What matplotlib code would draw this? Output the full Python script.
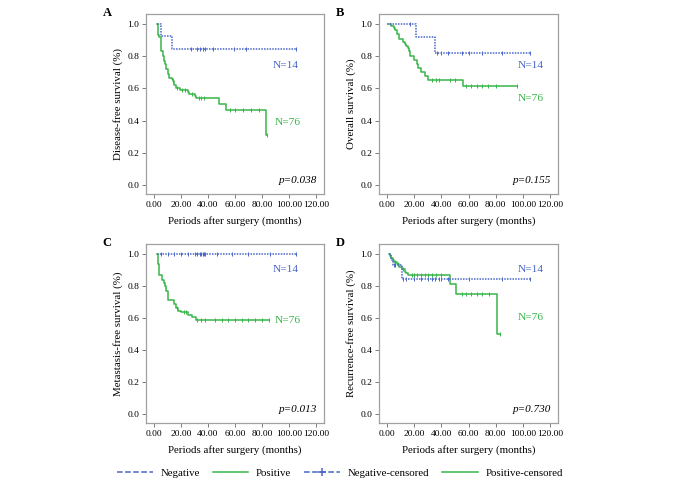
import matplotlib
matplotlib.use("Agg")
import matplotlib.pyplot as plt
from matplotlib.lines import Line2D
import numpy as np

plt.rcParams["font.family"] = ["Liberation Serif", "DejaVu Serif"]

BLUE = "#4a67c8"
GREEN = "#39b54a"

# ------------------- DATA -------------------
# each curve: step times, survival after the step, end of follow-up, censor times
a_neg_t = [2, 5, 13]
a_neg_s = [1.0, 0.923, 0.846]
a_neg_end = 105.5
a_neg_cens = [27, 32, 34, 36, 38, 44, 59, 68, 105.5]

a_pos_t = [2, 3, 4, 5, 6.5, 7, 8, 9, 10, 11, 13, 14, 15, 16, 19, 25, 26, 30, 31, 48, 53, 83]
a_pos_s = [1.0, 0.93, 0.92, 0.83, 0.80, 0.77, 0.75, 0.72, 0.69, 0.665, 0.66, 0.645, 0.62,
           0.60, 0.59, 0.58, 0.565, 0.55, 0.54, 0.50, 0.465, 0.31]
a_pos_end = 84
a_pos_cens = [14, 17, 21, 23, 28, 33, 35, 37, 56, 60, 66, 72, 78, 84]

b_neg_t = [0, 21.5, 35]
b_neg_s = [1.0, 0.917, 0.817]
b_neg_end = 105
b_neg_cens = [17, 37, 40, 45, 55, 60, 70, 85, 105]

b_pos_t = [1, 3, 5, 6, 7, 9, 12, 13, 14, 15, 16, 17, 20, 22, 23, 25, 28, 30, 56]
b_pos_s = [1.0, 0.987, 0.974, 0.96, 0.935, 0.905, 0.89, 0.875, 0.865, 0.85, 0.83, 0.80,
           0.775, 0.75, 0.725, 0.70, 0.68, 0.65, 0.615]
b_pos_end = 96
b_pos_cens = [33, 36, 38, 46, 50, 58, 62, 66, 70, 74, 80, 96]

c_neg_t = [2]
c_neg_s = [1.0]
c_neg_end = 105
c_neg_cens = [5, 10, 15, 20, 25, 30, 32, 34, 35, 36, 37, 38, 47, 58, 70, 86, 105]

c_pos_t = [2, 3, 4, 6, 7, 8, 9, 10, 15, 16, 18, 20, 25, 28, 31]
c_pos_s = [1.0, 0.94, 0.87, 0.84, 0.82, 0.80, 0.77, 0.71, 0.69, 0.66, 0.645, 0.64,
           0.62, 0.605, 0.59]
c_pos_end = 85
c_pos_cens = [17, 22, 24, 32, 35, 38, 45, 50, 55, 60, 65, 70, 75, 80, 85]

d_neg_t = [1, 3, 4, 11]
d_neg_s = [1.0, 0.96, 0.93, 0.846]
d_neg_end = 105
d_neg_cens = [5, 6, 12, 14, 20, 25, 30, 33, 35, 38, 40, 45, 60, 85, 105]

d_pos_t = [1, 2, 3, 4, 5, 7, 9, 11, 13, 14, 15, 46.5, 51, 81]
d_pos_s = [1.0, 0.987, 0.974, 0.96, 0.947, 0.935, 0.92, 0.905, 0.89, 0.88, 0.868,
           0.81, 0.748, 0.50]
d_pos_end = 83
d_pos_cens = [6, 8, 12, 18, 20, 22, 25, 28, 30, 33, 36, 40, 55, 58, 62, 66, 70, 75, 83]

panels = [
    ("A", "Disease-free survival (%)", "p=0.038",
     (a_neg_t, a_neg_s, a_neg_end, a_neg_cens), (a_pos_t, a_pos_s, a_pos_end, a_pos_cens),
     (88, 0.74), (89.5, 0.39)),
    ("B", "Overall survival (%)", "p=0.155",
     (b_neg_t, b_neg_s, b_neg_end, b_neg_cens), (b_pos_t, b_pos_s, b_pos_end, b_pos_cens),
     (96, 0.74), (96, 0.54)),
    ("C", "Metastasis-free survival (%)", "p=0.013",
     (c_neg_t, c_neg_s, c_neg_end, c_neg_cens), (c_pos_t, c_pos_s, c_pos_end, c_pos_cens),
     (88, 0.905), (89.5, 0.587)),
    ("D", "Recurrence-free survival (%)", "p=0.730",
     (d_neg_t, d_neg_s, d_neg_end, d_neg_cens), (d_pos_t, d_pos_s, d_pos_end, d_pos_cens),
     (96, 0.905), (96, 0.60)),
]

# axes boxes in figure fractions [left, bottom, width, height]
boxes = [
    [0.2147, 0.6008, 0.2618, 0.3704],
    [0.5574, 0.6008, 0.2632, 0.3704],
    [0.2147, 0.1296, 0.2618, 0.3683],
    [0.5574, 0.1296, 0.2632, 0.3683],
]


def draw_km(ax, curve, color, ls):
    t, s, end, cens = curve
    xs = list(t) + [end]
    ys = list(s) + [s[-1]]
    ax.step(xs, ys, where="post", color=color, lw=1.1, ls=ls)
    idx = np.searchsorted(np.array(t), np.array(cens), side="right") - 1
    cy = np.array(s)[np.clip(idx, 0, None)]
    ax.plot(cens, cy, ls="none", marker="|", ms=3.5, mew=0.7, color=color)


fig = plt.figure(figsize=(6.8, 4.86), dpi=100)

for (letter, ylab, ptxt, neg, pos, n14, n76), box in zip(panels, boxes):
    ax = fig.add_axes(box)
    draw_km(ax, pos, GREEN, "-")
    draw_km(ax, neg, BLUE, (0, (1, 0.8)))
    ax.set_xlim(-6, 126)
    ax.set_ylim(-0.056, 1.062)
    ax.set_xticks(np.arange(0, 121, 20))
    ax.set_xticklabels([f"{v:.2f}" for v in np.arange(0, 121, 20)])
    ax.set_yticks(np.arange(0, 1.01, 0.2))
    ax.set_yticklabels([f"{v:.1f}" for v in np.arange(0, 1.01, 0.2)])
    ax.tick_params(labelsize=6.8, length=3, width=0.6, color="#666666", pad=2)
    for sp in ax.spines.values():
        sp.set_color("#a0a0a0")
        sp.set_linewidth(0.9)
    ax.set_xlabel("Periods after surgery (months)", fontsize=7.8, labelpad=5)
    ax.set_ylabel(ylab, fontsize=7.8, labelpad=3)
    ax.text(n14[0], n14[1], "N=14", color=BLUE, fontsize=8.2, va="center")
    ax.text(n76[0], n76[1], "N=76", color=GREEN, fontsize=8.2, va="center")
    ax.text(121, 0.03, ptxt, fontsize=8, style="italic", ha="right", va="center")
    fig.text(box[0] - 0.064, box[1] + box[3] + 0.002, letter,
             fontsize=9, fontweight="bold", ha="left", va="center")

handles = [
    Line2D([], [], color=BLUE, ls="--", lw=1.1),
    Line2D([], [], color=GREEN, ls="-", lw=1.1),
    Line2D([], [], color=BLUE, ls="--", lw=1.1, marker="+", ms=6, mew=1.1),
    Line2D([], [], color=GREEN, ls="-", lw=1.1),
]
labels = ["Negative", "Positive", "Negative-censored", "Positive-censored"]
fig.legend(handles, labels, loc="center", bbox_to_anchor=(0.5, 0.027), ncol=4,
           frameon=False, fontsize=7.8, numpoints=1, handlelength=3.3,
           columnspacing=1.2, handletextpad=0.7)

fig.savefig("out.png", dpi=100)
